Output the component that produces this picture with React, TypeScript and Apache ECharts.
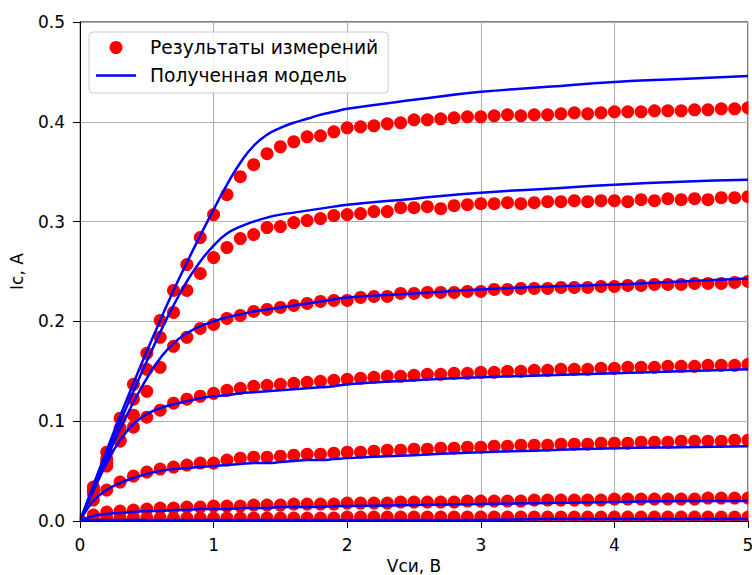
import React, { useEffect, useRef } from "react";
import * as echarts from "echarts";

const VDS = [0, 0.1, 0.2, 0.3, 0.4, 0.5, 0.6, 0.7, 0.8, 0.9, 1.0, 1.1, 1.2, 1.3, 1.4, 1.5, 1.6, 1.7, 1.8, 1.9, 2.0, 2.1, 2.2, 2.3, 2.4, 2.5, 2.6, 2.7, 2.8, 2.9, 3.0, 3.1, 3.2, 3.3, 3.4, 3.5, 3.6, 3.7, 3.8, 3.9, 4.0, 4.1, 4.2, 4.3, 4.4, 4.5, 4.6, 4.7, 4.8, 4.9, 5.0];

const MEAS_1 = [0, 0.034, 0.069, 0.103, 0.137, 0.168, 0.201, 0.231, 0.257, 0.284, 0.307, 0.327, 0.345, 0.357, 0.368, 0.375, 0.380, 0.385, 0.386, 0.390, 0.394, 0.395, 0.396, 0.398, 0.399, 0.402, 0.402, 0.403, 0.404, 0.405, 0.405, 0.406, 0.407, 0.406, 0.407, 0.407, 0.408, 0.409, 0.408, 0.409, 0.410, 0.410, 0.410, 0.411, 0.411, 0.411, 0.412, 0.412, 0.413, 0.413, 0.414];
const MEAS_2 = [0, 0.031, 0.062, 0.093, 0.122, 0.152, 0.184, 0.209, 0.231, 0.248, 0.264, 0.274, 0.283, 0.287, 0.294, 0.295, 0.299, 0.301, 0.303, 0.306, 0.307, 0.308, 0.310, 0.310, 0.314, 0.314, 0.315, 0.313, 0.316, 0.317, 0.318, 0.318, 0.319, 0.318, 0.319, 0.320, 0.320, 0.321, 0.320, 0.321, 0.321, 0.320, 0.322, 0.321, 0.323, 0.322, 0.323, 0.322, 0.324, 0.324, 0.325];
const MEAS_3 = [0, 0.028, 0.055, 0.081, 0.106, 0.130, 0.154, 0.175, 0.184, 0.193, 0.197, 0.203, 0.206, 0.210, 0.212, 0.214, 0.216, 0.218, 0.220, 0.221, 0.221, 0.224, 0.225, 0.225, 0.228, 0.228, 0.229, 0.229, 0.229, 0.230, 0.230, 0.232, 0.232, 0.233, 0.233, 0.233, 0.234, 0.234, 0.234, 0.235, 0.235, 0.236, 0.236, 0.237, 0.237, 0.237, 0.238, 0.238, 0.238, 0.239, 0.240];
const MEAS_4 = [0, 0.030, 0.058, 0.080, 0.094, 0.104, 0.111, 0.118, 0.122, 0.125, 0.128, 0.131, 0.133, 0.135, 0.136, 0.137, 0.138, 0.139, 0.140, 0.141, 0.142, 0.143, 0.144, 0.145, 0.145, 0.146, 0.147, 0.147, 0.148, 0.148, 0.149, 0.149, 0.150, 0.150, 0.151, 0.151, 0.152, 0.152, 0.152, 0.153, 0.153, 0.154, 0.154, 0.154, 0.155, 0.155, 0.155, 0.156, 0.156, 0.156, 0.157];
const MEAS_5 = [0, 0.021, 0.031, 0.039, 0.045, 0.049, 0.052, 0.054, 0.056, 0.058, 0.058, 0.061, 0.063, 0.064, 0.064, 0.065, 0.066, 0.067, 0.067, 0.068, 0.069, 0.069, 0.070, 0.071, 0.071, 0.072, 0.072, 0.073, 0.073, 0.074, 0.074, 0.075, 0.075, 0.076, 0.076, 0.076, 0.077, 0.077, 0.077, 0.078, 0.078, 0.078, 0.079, 0.079, 0.079, 0.080, 0.080, 0.080, 0.080, 0.081, 0.081];
const MEAS_6 = [0, 0.006, 0.009, 0.010, 0.011, 0.012, 0.013, 0.013, 0.014, 0.014, 0.015, 0.015, 0.015, 0.016, 0.016, 0.016, 0.017, 0.017, 0.017, 0.017, 0.018, 0.018, 0.018, 0.018, 0.019, 0.019, 0.019, 0.019, 0.019, 0.020, 0.020, 0.020, 0.020, 0.020, 0.021, 0.021, 0.021, 0.021, 0.021, 0.021, 0.022, 0.022, 0.022, 0.022, 0.022, 0.022, 0.022, 0.023, 0.023, 0.023, 0.023];
const MEAS_7 = [0, 0.002, 0.003, 0.003, 0.003, 0.003, 0.003, 0.003, 0.003, 0.003, 0.003, 0.003, 0.003, 0.003, 0.003, 0.003, 0.003, 0.003, 0.003, 0.003, 0.004, 0.004, 0.004, 0.004, 0.004, 0.004, 0.004, 0.004, 0.004, 0.004, 0.004, 0.004, 0.004, 0.004, 0.004, 0.004, 0.004, 0.004, 0.004, 0.004, 0.004, 0.004, 0.004, 0.004, 0.004, 0.004, 0.004, 0.004, 0.004, 0.004, 0.004];

const VDS_MODEL = [0, 0.1, 0.2, 0.3, 0.4, 0.5, 0.6, 0.7, 0.8, 0.9, 1.0, 1.1, 1.2, 1.3, 1.4, 1.5, 1.6, 1.7, 1.8, 1.9, 2.0, 2.5, 3.0, 3.5, 4.0, 4.5, 5.0];
const MODEL_1 = [0, 0.036, 0.071, 0.105, 0.138, 0.170, 0.201, 0.231, 0.259, 0.286, 0.312, 0.337, 0.359, 0.376, 0.387, 0.394, 0.399, 0.403, 0.407, 0.410, 0.413, 0.422, 0.430, 0.435, 0.440, 0.443, 0.446];
const MODEL_2 = [0, 0.034, 0.067, 0.099, 0.130, 0.160, 0.189, 0.216, 0.240, 0.260, 0.276, 0.288, 0.295, 0.300, 0.304, 0.307, 0.309, 0.311, 0.313, 0.315, 0.317, 0.323, 0.329, 0.333, 0.337, 0.340, 0.342];
const MODEL_3 = [0, 0.032, 0.063, 0.092, 0.119, 0.143, 0.163, 0.178, 0.188, 0.195, 0.200, 0.204, 0.207, 0.210, 0.212, 0.214, 0.216, 0.218, 0.220, 0.222, 0.224, 0.228, 0.232, 0.235, 0.237, 0.240, 0.243];
const MODEL_4 = [0, 0.030, 0.058, 0.081, 0.097, 0.107, 0.113, 0.117, 0.120, 0.123, 0.125, 0.126, 0.128, 0.129, 0.130, 0.131, 0.132, 0.133, 0.134, 0.135, 0.137, 0.141, 0.144, 0.146, 0.148, 0.150, 0.152];
const MODEL_5 = [0, 0.020, 0.031, 0.038, 0.043, 0.047, 0.050, 0.052, 0.053, 0.054, 0.055, 0.056, 0.057, 0.058, 0.058, 0.059, 0.060, 0.061, 0.061, 0.062, 0.063, 0.066, 0.069, 0.071, 0.073, 0.074, 0.075];
const MODEL_6 = [0, 0.005, 0.007, 0.008, 0.009, 0.010, 0.010, 0.011, 0.011, 0.012, 0.012, 0.012, 0.013, 0.013, 0.013, 0.014, 0.014, 0.014, 0.014, 0.015, 0.015, 0.016, 0.017, 0.018, 0.019, 0.020, 0.020];
const MODEL_7 = [0, 0.001, 0.001, 0.001, 0.001, 0.001, 0.001, 0.001, 0.001, 0.001, 0.001, 0.001, 0.001, 0.001, 0.001, 0.001, 0.001, 0.001, 0.001, 0.001, 0.001, 0.001, 0.001, 0.002, 0.002, 0.002, 0.002];

const MEAS = [MEAS_1, MEAS_2, MEAS_3, MEAS_4, MEAS_5, MEAS_6, MEAS_7];
const MODELS = [MODEL_1, MODEL_2, MODEL_3, MODEL_4, MODEL_5, MODEL_6, MODEL_7];

const NAME_MEAS = "Результаты измерений";
const NAME_MODEL = "Полученная модель";
const X_NAME = "Vси, В";
const Y_NAME = "Iс, A";

const FONT = "DejaVu Sans";
const FS = 17;
const FS_LEGEND = 18.7;

export default function App() {
  const ref = useRef<HTMLDivElement>(null);
  useEffect(() => {
    if (!ref.current) return;
    const chart = echarts.init(ref.current, undefined, { renderer: "svg" });
    const series: any[] = [];
    MEAS.forEach((ys) => {
      series.push({
        type: "scatter",
        name: NAME_MEAS,
        xAxisIndex: 0,
        yAxisIndex: 0,
        symbol: "circle",
        symbolSize: 13,
        itemStyle: { color: "#ff0000", opacity: 1 },
        data: VDS.map((x, i) => [x, ys[i]]),
        z: 2,
        clip: false,
      });
    });
    MODELS.forEach((ys) => {
      series.push({
        type: "line",
        name: NAME_MODEL,
        xAxisIndex: 0,
        yAxisIndex: 0,
        showSymbol: false,
        symbol: "none",
        smooth: 0.5,
        lineStyle: { color: "#0000ff", width: 2.5 },
        itemStyle: { color: "#0000ff" },
        data: VDS_MODEL.map((x, i) => [x, ys[i]]),
        z: 3,
      });
    });

    const baseX = { type: "value", min: 0, max: 5, interval: 1, position: "bottom" };
    const baseY = { type: "value", min: 0, max: 0.5, interval: 0.1, position: "left" };

    const option: any = {
      animation: false,
      textStyle: { fontFamily: FONT, color: "#000" },
      grid: {
        left: 80,
        right: 4,
        top: 22,
        bottom: 54,
        containLabel: false,
        outerBoundsMode: "none",
        show: true,
        borderColor: "#000",
        borderWidth: 1,
        backgroundColor: "transparent",
      },
      xAxis: [
        {
          ...baseX,
          axisLine: { show: false },
          axisTick: { show: false },
          axisLabel: { show: false },
          splitLine: { show: true, lineStyle: { color: "#b0b0b0", width: 1.1 } },
          z: 0,
        },
        {
          ...baseX,
          name: X_NAME,
          nameLocation: "middle",
          nameGap: 34,
          nameTextStyle: { fontSize: FS, color: "#000", fontFamily: FONT },
          axisLine: { show: true, onZero: false, lineStyle: { color: "#000", width: 1 } },
          axisTick: { show: true, length: 7, lineStyle: { color: "#000", width: 1 } },
          axisLabel: { fontSize: FS, color: "#000", fontFamily: FONT, margin: 15 },
          splitLine: { show: false },
          z: 10,
        },
      ],
      yAxis: [
        {
          ...baseY,
          axisLine: { show: false },
          axisTick: { show: false },
          axisLabel: { show: false },
          splitLine: { show: true, lineStyle: { color: "#b0b0b0", width: 1.1 } },
          z: 0,
        },
        {
          ...baseY,
          name: Y_NAME,
          nameLocation: "middle",
          nameGap: 55,
          nameRotate: 90,
          nameTextStyle: { fontSize: FS, color: "#000", fontFamily: FONT },
          axisLine: { show: true, onZero: false, lineStyle: { color: "#000", width: 1 } },
          axisTick: { show: true, length: 7, lineStyle: { color: "#000", width: 1 } },
          axisLabel: {
            fontSize: FS,
            color: "#000",
            fontFamily: FONT,
            margin: 15,
            formatter: (v: number) => v.toFixed(1),
          },
          splitLine: { show: false },
          z: 10,
        },
      ],
      legend: {
        data: [
          { name: NAME_MEAS, icon: "circle" },
          { name: NAME_MODEL, icon: "path://M0,0H40V2.5H0Z" },
        ],
        orient: "vertical",
        left: 89,
        top: 32,
        itemWidth: 40,
        itemHeight: 13,
        itemGap: 9,
        symbolKeepAspect: true,
        padding: [6, 10, 8, 7],
        backgroundColor: "rgba(255,255,255,0.8)",
        borderColor: "#cccccc",
        borderWidth: 1,
        borderRadius: 4,
        textStyle: { fontSize: FS_LEGEND, color: "#000", fontFamily: FONT, padding: [0, 0, 0, 9] },
        z: 20,
      },
      graphic: [
        { type: "rect", z: 5, shape: { x: 748.6, y: 0, width: 10, height: 575 }, style: { fill: "#fff" } },
        { type: "rect", z: 5, shape: { x: 66, y: 22, width: 13.5, height: 520 }, style: { fill: "#fff" } },
        { type: "rect", z: 5, shape: { x: 66, y: 521.5, width: 690, height: 11 }, style: { fill: "#fff" } },
      ],
      series,
    };
    chart.setOption(option);
    return () => chart.dispose();
  }, []);
  return (
    <div
      ref={ref}
      style={{ position: "fixed", left: 0, top: 0, width: 752, height: 575, background: "#fff" }}
    />
  );
}
